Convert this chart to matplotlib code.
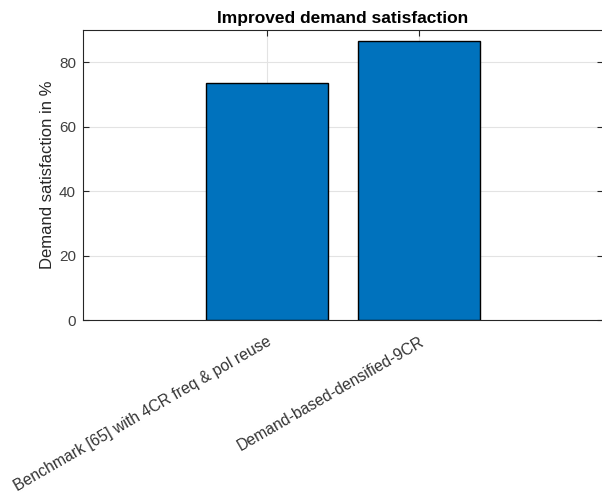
import numpy as np
import matplotlib
matplotlib.use("Agg")
from matplotlib import pyplot as plt
from matplotlib.transforms import ScaledTranslation

categories = ["Benchmark [65] with 4CR freq & pol reuse", "Demand-based-densified-9CR"]
satisfaction = [73.5, 86.6]
y_ticks = [0, 20, 40, 60, 80]

plt.rcParams["font.family"] = ["Liberation Sans", "DejaVu Sans"]

fig = plt.figure(figsize=(6.02, 4.93), dpi=100)
ax = fig.add_axes([0.1379, 0.3509, 0.8635, 0.5882])

x = np.arange(1, len(categories) + 1)
ax.bar(x, satisfaction, width=0.8, color="#0072BD", edgecolor="black",
       linewidth=1.0, zorder=3)

ax.set_xlim(-0.21, 3.21)
ax.set_ylim(0, 90)
ax.set_xticks(x)
ax.set_xticklabels(categories, rotation=30, ha="right", rotation_mode="anchor",
                   fontsize=11.3, color="#333333")
# nudge the rotated labels a little to the right, like the original
shift = ScaledTranslation(4 / 100, 0, fig.dpi_scale_trans)
for lbl in ax.get_xticklabels():
    lbl.set_transform(lbl.get_transform() + shift)
ax.set_yticks(y_ticks)
ax.tick_params(axis="y", labelsize=11, labelcolor="#404040", pad=5)
ax.tick_params(direction="in", length=4, width=0.8, color="#262626",
               top=True, right=True)
ax.tick_params(axis="x", pad=10)

ax.grid(True, color="#e3e3e3", linewidth=0.8, zorder=0)
ax.set_axisbelow(True)
for s in ax.spines.values():
    s.set_color("#262626")
    s.set_linewidth(0.8)
# the right edge of the axes is cut off in the original picture
ax.spines["right"].set_visible(False)

ax.set_ylabel("Demand satisfaction in %", fontsize=12, color="#262626", labelpad=3)
ax.set_title("Improved demand satisfaction", fontsize=12.5, fontweight="bold",
             color="black", pad=5)

fig.savefig("out.png", dpi=100)
